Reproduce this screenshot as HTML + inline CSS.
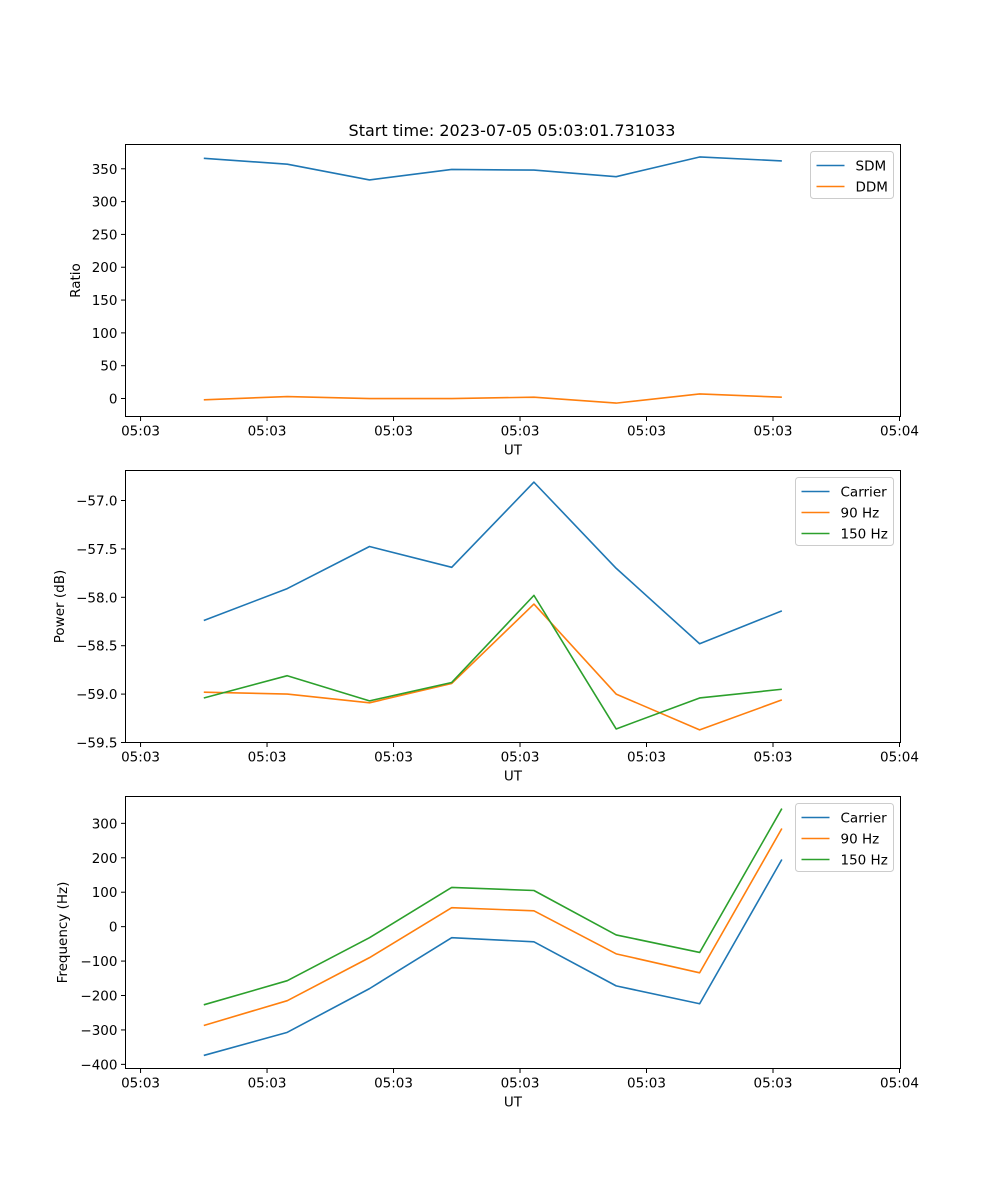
<!DOCTYPE html>
<html><head><meta charset="utf-8"><style>
body{margin:0;background:#fff;}
svg{display:block;font-family:"DejaVu Sans","Liberation Sans",sans-serif;}
</style></head><body>
<svg id="fig" width="1000" height="1200" xmlns="http://www.w3.org/2000/svg">
<text x="512" y="136" font-size="16" text-anchor="middle">Start time: 2023-07-05 05:03:01.731033</text>
</svg>
<script>
const xValues = [0.5, 1.16, 1.81, 2.46, 3.11, 3.76, 4.42, 5.07];
const xTickValues = [0, 1, 2, 3, 4, 5, 6];
const xTickLabels = ["05:03","05:03","05:03","05:03","05:03","05:03","05:04"];

const sdm = [366, 357, 333, 349, 348, 338, 368, 362];
const ddm = [-2, 3, 0, 0, 2, -7, 7, 2];
const ratioTicks = [0, 50, 100, 150, 200, 250, 300, 350];

const powCarrier = [-58.24, -57.91, -57.475, -57.69, -56.81, -57.70, -58.48, -58.14];
const pow90 = [-58.98, -59.0, -59.09, -58.89, -58.07, -59.0, -59.37, -59.06];
const pow150 = [-59.04, -58.81, -59.07, -58.88, -57.98, -59.36, -59.04, -58.95];
const powTicks = [-57.0, -57.5, -58.0, -58.5, -59.0, -59.5];

const frqCarrier = [-374, -307, -180, -32, -44, -172, -224, 195];
const frq90 = [-287, -215, -90, 55, 46, -79, -134, 285];
const frq150 = [-227, -157, -32, 114, 105, -24, -75, 343];
const frqTicks = [-400, -300, -200, -100, 0, 100, 200, 300];

const NS = "http://www.w3.org/2000/svg";
const svg = document.getElementById('fig');
function el(tag, attrs, parent){const e=document.createElementNS(NS,tag);for(const k in attrs)e.setAttribute(k,attrs[k]);(parent||svg).appendChild(e);return e;}

const L=125.5, R=900.5, XMIN=-0.119, XMAX=6.008;
const xs = v => L + (v - XMIN) / (XMAX - XMIN) * (R - L);

function panel(name, top, bottom, ymin, ymax, yticks, yfmt, ylabel, series, legendW){
  const g = el('g', {});
  
  
  const ys = v => bottom - (v - ymin) / (ymax - ymin) * (bottom - top);
  const frame = el('rect', {x:L, y:top, width:R-L, height:bottom-top, fill:'none', stroke:'#000', 'stroke-width':1}, g);
  
  
  xTickValues.forEach((v,i)=>{
    const x = xs(v);
    el('line',{x1:x,y1:bottom,x2:x,y2:bottom+4.5,stroke:'#000'},g);
    const t = el('text',{x:x,y:bottom+19,'font-size':13.5,'text-anchor':'middle'},g);
    t.textContent = xTickLabels[i];
    
    
  });
  const xl = el('text',{x:(L+R)/2,y:bottom+38,'font-size':13.5,'text-anchor':'middle'},g);
  xl.textContent='UT';
  
  
  yticks.forEach(v=>{
    const y = ys(v);
    el('line',{x1:L-4.5,y1:y,x2:L,y2:y,stroke:'#000'},g);
    const t = el('text',{x:L-8,y:y+5,'font-size':13.5,'text-anchor':'end'},g);
    t.textContent = yfmt(v);
    
    
  });
  const ylx = ylabel.x;
  const yl = el('text',{x:ylx,y:(top+bottom)/2,'font-size':13.5,'text-anchor':'middle',transform:`rotate(-90 ${ylx} ${(top+bottom)/2})`},g);
  yl.textContent = ylabel.text;
  
  
  series.forEach(s=>{
    const p = el('polyline',{points:s.data.map((v,i)=>xs(xValues[i])+','+ys(v)).join(' '),fill:'none',stroke:s.color,'stroke-width':1.6,'stroke-linejoin':'round'},g);
    
    
  });
  const lx = R - 7 - legendW, ly = top + 7;
  const lg = el('g',{},g);
  
  
  el('rect',{x:lx,y:ly,width:legendW,height:series.length*21+5,rx:3,fill:'#fff',stroke:'#ccc'},lg);
  series.forEach((s,i)=>{
    const yy = ly + 14 + i*21;
    el('line',{x1:lx+6,y1:yy,x2:lx+34,y2:yy,stroke:s.color,'stroke-width':1.6},lg);
    const t = el('text',{x:lx+45,y:yy+5,'font-size':13.5},lg);
    t.textContent = s.label;
    
    
  });
}
const C1='#1f77b4', C2='#ff7f0e', C3='#2ca02c';
panel('ratio', 144.5, 416.5, -27.4, 387, ratioTicks, v=>String(v), {x:80,text:'Ratio'},
  [{data:sdm,color:C1,label:'SDM'},{data:ddm,color:C2,label:'DDM'}], 83);
panel('power', 470.5, 742.5, -59.5, -56.69, powTicks, v=>v.toFixed(1).replace('-','\u2212'), {x:64,text:'Power (dB)'},
  [{data:powCarrier,color:C1,label:'Carrier'},{data:pow90,color:C2,label:'90 Hz'},{data:pow150,color:C3,label:'150 Hz'}], 98);
panel('frequency', 796.5, 1068.5, -412, 378, frqTicks, v=>String(v).replace('-','\u2212'), {x:67,text:'Frequency (Hz)'},
  [{data:frqCarrier,color:C1,label:'Carrier'},{data:frq90,color:C2,label:'90 Hz'},{data:frq150,color:C3,label:'150 Hz'}], 98);
</script>
</body></html>
